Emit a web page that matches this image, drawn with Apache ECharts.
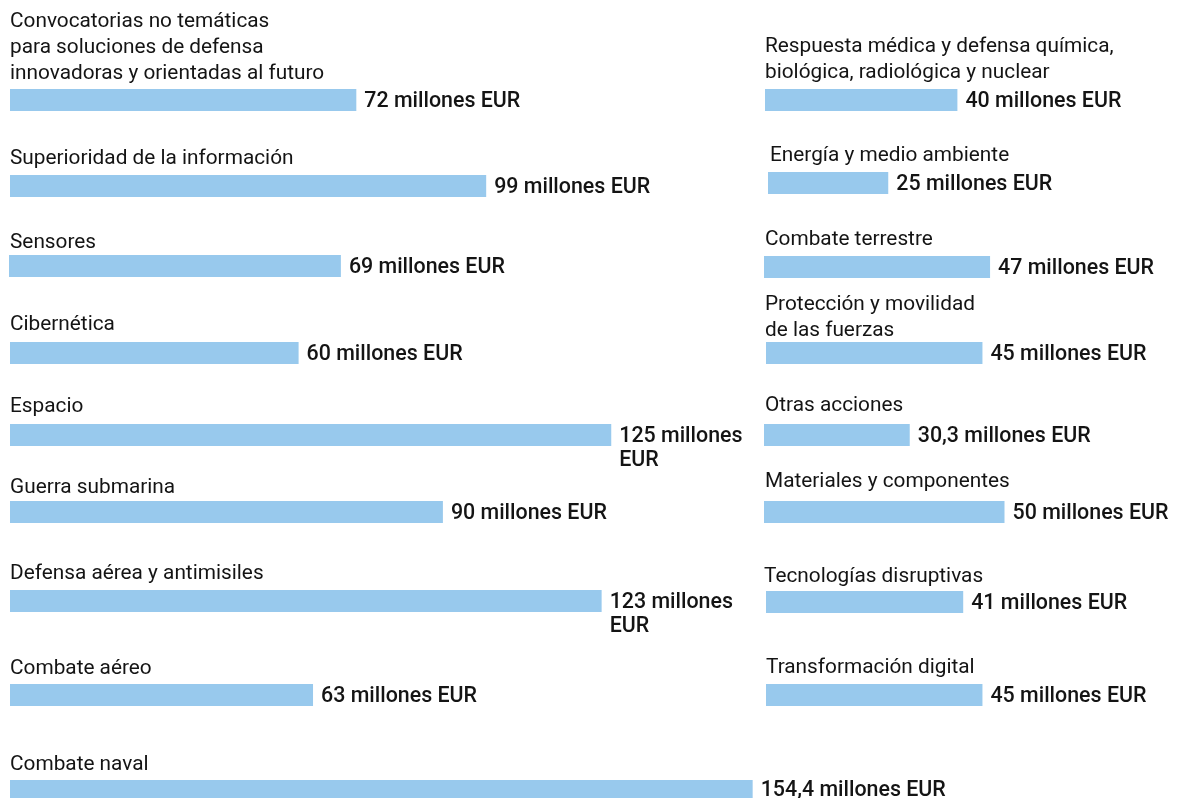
<!DOCTYPE html>
<html>
<head>
<meta charset="utf-8">
<script src="https://cdn.jsdelivr.net/npm/echarts@6/dist/echarts.min.js"></script>
<style>
  html, body { margin: 0; padding: 0; background: #ffffff; }
  #chart { width: 1179px; height: 798px; }
</style>
</head>
<body>
<div id="chart"></div>
<script>
// Funding per defence category (millions EUR), two columns
const leftNames = [
  'Convocatorias no temáticas\npara soluciones de defensa\ninnovadoras y orientadas al futuro',
  'Superioridad de la información',
  'Sensores',
  'Cibernética',
  'Espacio',
  'Guerra submarina',
  'Defensa aérea y antimisiles',
  'Combate aéreo',
  'Combate naval'
];
const leftValues = [72, 99, 69, 60, 125, 90, 123, 63, 154.4];

const rightNames = [
  'Respuesta médica y defensa química,\nbiológica, radiológica y nuclear',
  'Energía y medio ambiente',
  'Combate terrestre',
  'Protección y movilidad\nde las fuerzas',
  'Otras acciones',
  'Materiales y componentes',
  'Tecnologías disruptivas',
  'Transformación digital'
];
const rightValues = [40, 25, 47, 45, 30.3, 50, 41, 45];

// Layout: plot width, bar top, bar left edge, name left edge, name bottom, wrapped value label
const leftLayout = {
  width:    800,
  barTop:   [89, 175, 255, 342, 424, 501, 590, 684, 780],
  barX:     [10, 10, 9, 10, 10, 10, 10, 10, 10],
  nameX:    [10, 10, 10, 10, 10, 10, 10, 10, 10],
  nameBot:  [87, 172, 256, 338, 420, 501, 587, 682, 778],
  wrap:     [false, false, false, false, true, false, true, false, false]
};
const rightLayout = {
  width:    400,
  barTop:   [89, 172, 256, 342, 424, 501, 591, 684],
  barX:     [765, 768, 764, 766, 764, 764, 766, 766],
  nameX:    [765, 770, 765, 765, 765, 765, 764, 766],
  nameBot:  [86, 169, 253, 344, 419, 495, 590, 681],
  wrap:     [false, false, false, false, false, false, false, false]
};

const PX_PER_UNIT = 4.81;
const BAR_H = 22;
const BAR_COLOR = '#98C9ED';
const TEXT_COLOR = '#141414';
const FONT = 'Roboto';
const NAME_SIZE = 20.8;
const VALUE_SIZE = 21.4;

function fmt(v, wrap) {
  const s = String(v).replace('.', ',');
  return wrap ? s + ' millones\nEUR' : s + ' millones EUR';
}

const grid = [], xAxis = [], yAxis = [], series = [], graphics = [];

function addColumn(names, values, L) {
  names.forEach((name, i) => {
    const k = grid.length;
    grid.push({ left: L.barX[i], top: L.barTop[i], width: L.width, height: BAR_H, containLabel: false });
    xAxis.push({ gridIndex: k, type: 'value', min: 0, max: L.width / PX_PER_UNIT, show: false });
    yAxis.push({ gridIndex: k, type: 'category', data: [name], show: false });
    series.push({
      type: 'bar',
      xAxisIndex: k,
      yAxisIndex: k,
      barWidth: BAR_H,
      silent: true,
      animation: false,
      itemStyle: { color: BAR_COLOR },
      label: {
        show: true,
        position: 'right',
        distance: 8,
        offset: L.wrap[i] ? [0, 14] : [0, 2],
        formatter: () => fmt(values[i], L.wrap[i]),
        fontFamily: FONT,
        fontWeight: 500,
        fontSize: VALUE_SIZE,
        lineHeight: 24,
        color: TEXT_COLOR,
        align: 'left'
      },
      data: [values[i]]
    });
    graphics.push({
      type: 'text',
      left: L.nameX[i],
      top: L.nameBot[i] - 26 * name.split('\n').length,
      silent: true,
      style: {
        text: name,
        font: NAME_SIZE + 'px ' + FONT,
        lineHeight: 26,
        fill: TEXT_COLOR
      }
    });
  });
}

addColumn(leftNames, leftValues, leftLayout);
addColumn(rightNames, rightValues, rightLayout);

const chart = echarts.init(document.getElementById('chart'), null, { renderer: 'canvas' });
chart.setOption({
  backgroundColor: '#ffffff',
  animation: false,
  grid, xAxis, yAxis, series,
  graphic: graphics
});
</script>
</body>
</html>
